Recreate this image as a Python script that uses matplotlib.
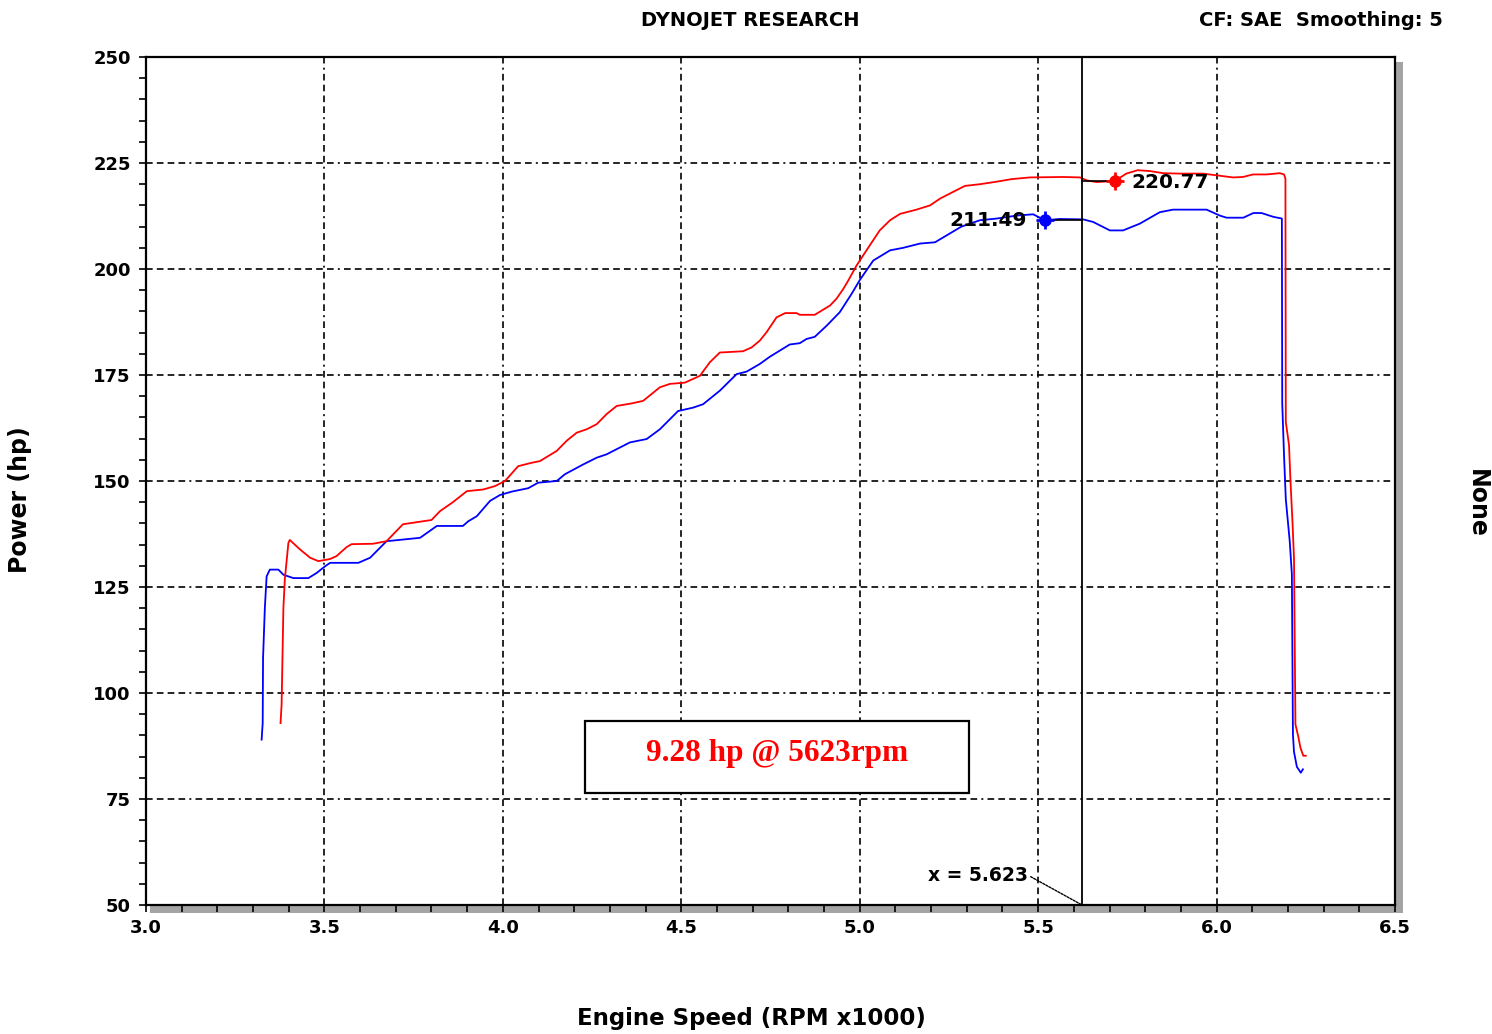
import matplotlib
matplotlib.use("Agg")
import matplotlib.pyplot as plt
from matplotlib.patches import Rectangle
from matplotlib.ticker import MultipleLocator

# ---------------- data ----------------
blue_rpm = [3.324, 3.327, 3.328, 3.333, 3.338, 3.347, 3.371, 3.385, 3.413, 3.455,
            3.478, 3.502, 3.516, 3.595, 3.628, 3.674, 3.768, 3.815, 3.888, 3.903,
            3.927, 3.964, 3.992, 4.025, 4.071, 4.099, 4.151, 4.174, 4.225, 4.263,
            4.291, 4.356, 4.403, 4.440, 4.491, 4.533, 4.561, 4.608, 4.655, 4.683,
            4.720, 4.748, 4.804, 4.832, 4.851, 4.874, 4.907, 4.944, 4.977, 5.001,
            5.038, 5.085, 5.122, 5.169, 5.211, 5.243, 5.285, 5.337, 5.384, 5.440,
            5.486, 5.519, 5.560, 5.626, 5.654, 5.701, 5.738, 5.785, 5.841, 5.878,
            5.972, 6.009, 6.028, 6.075, 6.103, 6.126, 6.159, 6.183,
            6.184, 6.189, 6.194, 6.205, 6.211, 6.214, 6.217, 6.225, 6.236, 6.242]
blue_hp = [89.0, 92.9, 108.2, 120.0, 127.5, 129.1, 129.1, 127.9, 127.1, 127.1,
           128.3, 129.9, 130.7, 130.7, 131.9, 135.8, 136.6, 139.4, 139.4, 140.5,
           141.7, 145.3, 146.7, 147.5, 148.3, 149.6, 150.0, 151.6, 153.9, 155.5,
           156.3, 159.1, 159.9, 162.2, 166.5, 167.3, 168.1, 171.3, 175.2, 175.8,
           177.6, 179.3, 182.2, 182.5, 183.5, 184.0, 186.6, 189.8, 194.1, 197.5,
           202.0, 204.4, 205.0, 206.0, 206.3, 207.9, 210.0, 211.5, 211.9, 212.6,
           212.9, 211.49, 211.8, 211.7, 211.1, 209.1, 209.1, 210.7, 213.4, 214.0,
           214.0, 212.6, 212.1, 212.1, 213.2, 213.2, 212.3, 211.9,
           168.4, 156.1, 145.7, 135.8, 128.0, 90.2, 86.1, 82.6, 81.2, 82.0]

red_rpm = [3.377, 3.380, 3.385, 3.389, 3.399, 3.403, 3.431, 3.460, 3.483, 3.516,
           3.534, 3.562, 3.576, 3.636, 3.674, 3.720, 3.760, 3.800, 3.824, 3.860,
           3.899, 3.945, 3.978, 4.006, 4.043, 4.081, 4.104, 4.151, 4.179, 4.207,
           4.235, 4.263, 4.291, 4.319, 4.361, 4.393, 4.440, 4.468, 4.510, 4.552,
           4.580, 4.608, 4.673, 4.697, 4.720, 4.739, 4.767, 4.791, 4.823, 4.832,
           4.874, 4.917, 4.935, 4.954, 4.968, 4.991, 5.019, 5.056, 5.085, 5.113,
           5.159, 5.197, 5.225, 5.262, 5.295, 5.337, 5.384, 5.426, 5.477, 5.570,
           5.617, 5.636, 5.664, 5.715, 5.747, 5.779, 5.813, 5.850, 5.897, 5.962,
           5.999, 6.046, 6.074, 6.102, 6.140, 6.177, 6.189, 6.193,
           6.193, 6.194, 6.203, 6.207, 6.213, 6.217, 6.221, 6.229, 6.235, 6.243, 6.250]
red_hp = [92.9, 97.3, 120.0, 126.8, 135.4, 136.1, 133.9, 131.9, 131.1, 131.6,
          132.3, 134.4, 135.1, 135.2, 135.8, 139.8, 140.3, 140.8, 142.9, 145.0,
          147.6, 148.0, 148.8, 150.0, 153.5, 154.3, 154.7, 157.1, 159.5, 161.4,
          162.2, 163.4, 165.8, 167.7, 168.3, 168.9, 172.1, 172.9, 173.2, 174.8,
          178.0, 180.3, 180.6, 181.5, 183.1, 185.1, 188.6, 189.6, 189.6, 189.2,
          189.2, 191.4, 193.0, 195.3, 197.3, 200.8, 204.4, 209.1, 211.5, 213.0,
          214.0, 215.0, 216.6, 218.2, 219.6, 220.0, 220.6, 221.2, 221.6, 221.7,
          221.6, 220.9, 220.5, 220.77, 222.5, 223.3, 223.1, 222.6, 222.5, 222.5,
          222.1, 221.6, 221.7, 222.3, 222.3, 222.6, 222.3, 221.3,
          216.2, 163.9, 158.5, 150.2, 139.8, 131.6, 92.6, 89.7, 87.1, 85.2, 85.2]

cursor_rpm = 5.623
blue_marker = (5.519, 211.49)
red_marker = (5.715, 220.77)
blue_label = "211.49"
red_label = "220.77"
cursor_label = "x = 5.623"
box_text = "9.28 hp @ 5623rpm"

x_ticks = [3.0, 3.5, 4.0, 4.5, 5.0, 5.5, 6.0, 6.5]
y_ticks = [50, 75, 100, 125, 150, 175, 200, 225, 250]

# ---------------- figure ----------------
W, H = 1492, 1034
fig = plt.figure(figsize=(W / 100, H / 100), dpi=100)
fig.patch.set_facecolor("white")

L, R, T, B = 146, 1395, 57, 905
ax = fig.add_axes([L / W, 1 - B / H, (R - L) / W, (B - T) / H])
ax.set_xlim(3.0, 6.5)
ax.set_ylim(50, 250)

# shadow (gray) right and bottom
shadow = "#a4a4a4"
fig.add_artist(Rectangle(((R) / W, 1 - 912 / H), 8 / W, (912 - 62) / H,
                         transform=fig.transFigure, color=shadow, zorder=-1, lw=0))
fig.add_artist(Rectangle(((L + 4) / W, 1 - 913 / H), (R + 8 - L - 4) / W, 8 / H,
                         transform=fig.transFigure, color=shadow, zorder=-1, lw=0))

for s in ax.spines.values():
    s.set_linewidth(1.6)
    s.set_color("black")

ax.xaxis.set_major_locator(MultipleLocator(0.5))
ax.xaxis.set_minor_locator(MultipleLocator(0.1))
ax.yaxis.set_major_locator(MultipleLocator(25))
ax.yaxis.set_minor_locator(MultipleLocator(5))
ax.tick_params(which="both", direction="out", length=5, width=1.2, color="black")
ax.tick_params(axis="x", which="major", pad=5)
ax.tick_params(axis="y", which="major", pad=6)
ax.set_xticks(x_ticks)
ax.set_yticks(y_ticks)
ax.set_xticklabels([f"{v:.1f}" for v in x_ticks], fontsize=13, fontweight="bold")
ax.set_yticklabels([str(v) for v in y_ticks], fontsize=13, fontweight="bold")

# grid: dashed with occasional dot
grid_ls = (0, (4, 2.5, 4, 2.5, 4, 2.5, 4, 2.5, 1.2, 2.5))
for xv in x_ticks[1:-1]:
    ax.axvline(xv, color="black", lw=1.2, ls=grid_ls, zorder=1)
for yv in y_ticks[1:-1]:
    ax.axhline(yv, color="black", lw=1.2, ls=grid_ls, zorder=1)

# curves
ax.plot(blue_rpm, blue_hp, color="#0000ff", lw=1.3, zorder=3)
ax.plot(red_rpm, red_hp, color="#ff0000", lw=1.3, zorder=3)

# cursor line
ax.axvline(cursor_rpm, color="black", lw=1.3, zorder=4)

# connectors and markers
ax.plot([blue_marker[0], cursor_rpm], [blue_marker[1], blue_marker[1]], color="black", lw=1.2, zorder=4)
ax.plot([cursor_rpm, red_marker[0]], [red_marker[1], red_marker[1]], color="black", lw=1.2, zorder=4)
ax.plot(*blue_marker, marker="o", ms=8, color="#0000ff", zorder=5)
ax.plot(*blue_marker, marker="+", ms=13, mew=2, color="#0000ff", zorder=5)
ax.plot(*red_marker, marker="o", ms=8, color="#ff0000", zorder=5)
ax.plot(*red_marker, marker="+", ms=13, mew=2, color="#ff0000", zorder=5)

ax.annotate(blue_label, xy=blue_marker, xytext=(-13, 0), textcoords="offset points",
            ha="right", va="center", fontsize=14.5, fontweight="bold", zorder=6)
ax.annotate(red_label, xy=red_marker, xytext=(12, -1), textcoords="offset points",
            ha="left", va="center", fontsize=14.5, fontweight="bold", zorder=6)

# cursor label with leader
ax.annotate(cursor_label, xy=(cursor_rpm, 50), xytext=(-39, 21.5), textcoords="offset points",
            ha="right", va="center", fontsize=13.5, fontweight="bold",
            arrowprops=dict(arrowstyle="-", color="black", lw=1.0, ls=(0, (1.5, 1)),
                            shrinkA=0, shrinkB=0, relpos=(1.0, 0.5)))

# box annotation
ax.add_patch(Rectangle((0.3515, 0.132), 0.3075, 0.0849, transform=ax.transAxes,
                       facecolor="white", edgecolor="black", lw=1.6, zorder=6))
ax.text(0.3515 + 0.3075 / 2, 0.132 + 0.0849 / 2 + 0.004, box_text, transform=ax.transAxes,
        ha="center", va="center", color="#ff0000", fontsize=22.5, fontweight="bold",
        family="Liberation Serif", zorder=7)

# header texts
fig.text(750 / W, 1 - 21 / H, "DYNOJET RESEARCH", ha="center", va="center",
         fontsize=14, fontweight="bold")
fig.text(1443 / W, 1 - 21 / H, "CF: SAE  Smoothing: 5", ha="right", va="center",
         fontsize=14, fontweight="bold")
fig.text(20 / W, 1 - 500 / H, "Power (hp)", rotation=90, ha="center", va="center",
         fontsize=17, fontweight="bold")
fig.text(1477 / W, 1 - 503 / H, "None", rotation=-90, ha="center", va="center",
         fontsize=17, fontweight="bold")
fig.text(751 / W, 1 - 1018 / H, "Engine Speed (RPM x1000)", ha="center", va="center",
         fontsize=16.5, fontweight="bold")

fig.savefig("out.png", dpi=100, facecolor="white")
